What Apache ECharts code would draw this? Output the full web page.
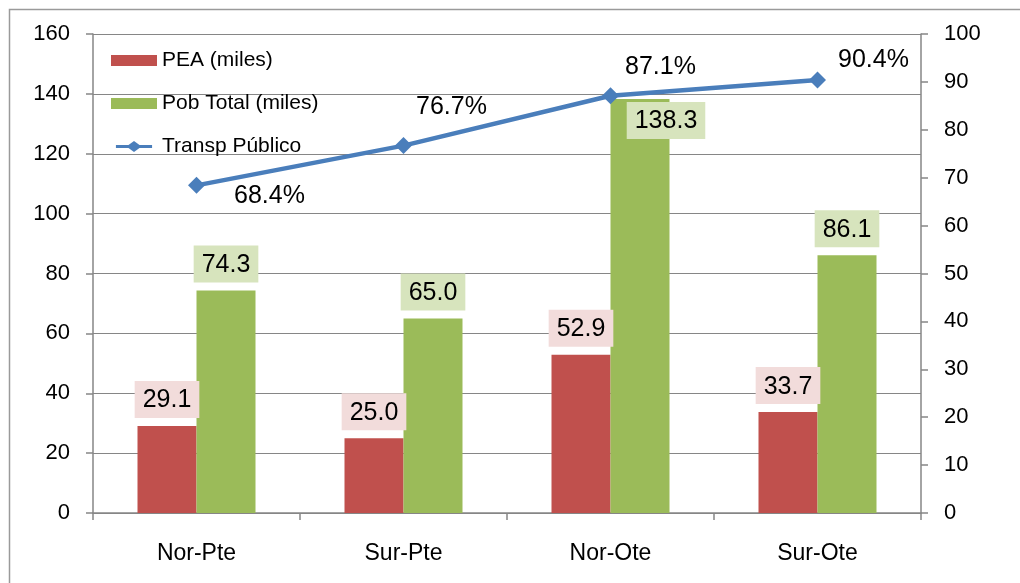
<!DOCTYPE html>
<html lang="es">
<head>
    <meta charset="UTF-8">
    <title>PEA, Pob Total y Transp Público</title>
    <script src="https://cdn.jsdelivr.net/npm/echarts@6/dist/echarts.min.js"></script>
    <style>
        html, body { margin: 0; padding: 0; background: #fff; }
        #box { width: 1020px; height: 583px; }
    </style>
</head>
<body>
    <div id="box"></div>
<script>
    // datos
    const zonas = ["Nor-Pte", "Sur-Pte", "Nor-Ote", "Sur-Ote"];
    const pea = [29.1, 25.0, 52.9, 33.7];
    const pobTotal = [74.3, 65.0, 138.3, 86.1];
    const transp = [68.4, 76.7, 87.1, 90.4];

    const font = "Liberation Sans, Arial, sans-serif";
    const gris = "#868686";

    // desplazamiento de las etiquetas de la linea (como en Excel)
    const lineaOffset = [[73, 11], [48, -38], [50, -29], [56, -20]];

    var myChart = echarts.init(document.getElementById('box'));

    var etiquetaBarra = {
        show: true, position: "top", distance: 8,
        formatter: p => p.value.toFixed(1),
        fontSize: 25, color: "#000", fontFamily: font,
        padding: [7, 8, 5, 8]
    };

    var option = {
        backgroundColor: "#fff",
        textStyle: { fontFamily: font },
        animation: false,
        graphic: [{
            type: "rect",
            left: 7, top: 7,
            shape: { width: 1030, height: 600 },
            style: { fill: "none", stroke: "#9a9a9a", lineWidth: 1.5 },
            z: 0
        }],
        grid: { left: 93, right: 99, top: 34, bottom: 70 },
        legend: {
            orient: "vertical",
            left: 106, top: 45,
            itemWidth: 46, itemHeight: 11,
            itemGap: 22,
            textStyle: { fontSize: 21, color: "#000", fontFamily: font },
            data: [
                { name: "PEA (miles)", icon: "rect" },
                { name: "Pob Total (miles)", icon: "rect" },
                {
                    name: "Transp Público",
                    icon: "path://M0,5L16,5L23,0L30,5L46,5L46,9L30,9L23,14L16,9L0,9Z",
                    itemStyle: { color: "#4A7EBB" }
                }
            ]
        },
        xAxis: {
            type: "category",
            data: zonas,
            axisLine: { lineStyle: { color: gris, width: 1.5 } },
            axisTick: { show: true, length: 7, lineStyle: { color: gris, width: 1.5 } },
            axisLabel: { color: "#000", fontSize: 23, margin: 29, fontFamily: font }
        },
        yAxis: [
            {
                type: "value", min: 0, max: 160, interval: 20,
                axisLine: { show: true, lineStyle: { color: gris, width: 1.5 } },
                axisTick: { show: true, length: 7, lineStyle: { color: gris, width: 1.5 } },
                splitLine: { lineStyle: { color: gris, width: 1.2 } },
                axisLabel: { color: "#000", fontSize: 22, margin: 23, fontFamily: font }
            },
            {
                type: "value", min: 0, max: 100, interval: 10,
                axisLine: { show: true, lineStyle: { color: gris, width: 1.5 } },
                axisTick: { show: true, length: 7, lineStyle: { color: gris, width: 1.5 } },
                splitLine: { show: false },
                axisLabel: { color: "#000", fontSize: 22, margin: 23, fontFamily: font }
            }
        ],
        series: [
            {
                name: "PEA (miles)",
                type: "bar",
                data: pea,
                barWidth: 59,
                barGap: "0%",
                itemStyle: { color: "#C0504D" },
                label: Object.assign({}, etiquetaBarra, { backgroundColor: "#F2DCDB" })
            },
            {
                name: "Pob Total (miles)",
                type: "bar",
                data: pobTotal.map((v, i) => i === 2 ? {
                    value: v,
                    label: { position: "insideTop", distance: 3, offset: [26, 0] }
                } : v),
                barWidth: 59,
                itemStyle: { color: "#9BBB59" },
                label: Object.assign({}, etiquetaBarra, { backgroundColor: "#D7E4BD" })
            },
            {
                name: "Transp Público",
                type: "line",
                yAxisIndex: 1,
                data: transp.map((v, i) => ({ value: v, label: { offset: lineaOffset[i] } })),
                symbol: "diamond",
                symbolSize: 17,
                lineStyle: { color: "#4A7EBB", width: 4.5 },
                itemStyle: { color: "#4A7EBB" },
                label: {
                    show: true, position: "inside",
                    formatter: p => p.value.toFixed(1) + "%",
                    fontSize: 25, color: "#000", fontFamily: font
                },
                z: 5
            }
        ]
    };

    myChart.setOption(option);
</script>
</body>
</html>
